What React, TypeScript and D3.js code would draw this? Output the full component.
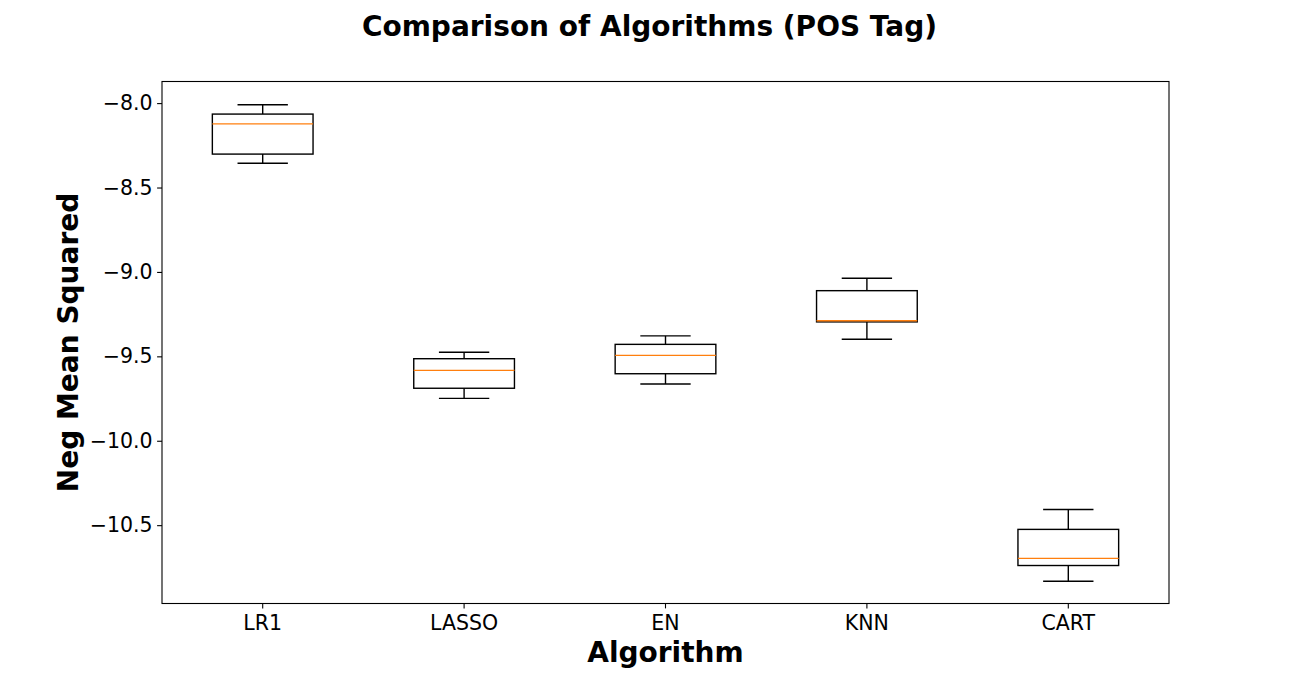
import React, { useEffect, useRef } from "react";
import * as d3 from "d3";

const categories = ["LR1", "LASSO", "EN", "KNN", "CART"];
const whiskerHigh = [-8.01, -9.476, -9.379, -9.037, -10.407];
const q3Values = [-8.065, -9.514, -9.429, -9.111, -10.525];
const medians = [-8.123, -9.583, -9.494, -9.289, -10.697];
const q1Values = [-8.302, -9.689, -9.603, -9.296, -10.739];
const whiskerLow = [-8.356, -9.749, -9.664, -9.399, -10.832];
const yTicks = [-8.0, -8.5, -9.0, -9.5, -10.0, -10.5];

const W = 1299;
const H = 679;
const M = { left: 162, right: 1169, top: 81.5, bottom: 603.5 };

export default function App() {
  const ref = useRef<SVGSVGElement | null>(null);
  useEffect(() => {
    const svg = d3.select(ref.current);
    svg.selectAll("*").remove();
    const font = "DejaVu Sans, sans-serif";
    const x = d3.scaleBand<string>().domain(categories).range([M.left, M.right]).padding(0);
    const y = d3.scaleLinear().domain([-10.964, -7.872]).range([M.bottom, M.top]);
    const bw = x.bandwidth();
    const boxW = bw * 0.5;
    const capW = bw * 0.25;
    const lw = 1.4;

    const g = svg.append("g");
    categories.forEach((c, i) => {
      const cx = x(c)! + bw / 2;
      g.append("line").attr("x1", cx).attr("x2", cx).attr("y1", y(q3Values[i])).attr("y2", y(whiskerHigh[i]))
        .attr("stroke", "#000").attr("stroke-width", lw);
      g.append("line").attr("x1", cx).attr("x2", cx).attr("y1", y(q1Values[i])).attr("y2", y(whiskerLow[i]))
        .attr("stroke", "#000").attr("stroke-width", lw);
      g.append("line").attr("x1", cx - capW / 2).attr("x2", cx + capW / 2).attr("y1", y(whiskerHigh[i])).attr("y2", y(whiskerHigh[i]))
        .attr("stroke", "#000").attr("stroke-width", lw);
      g.append("line").attr("x1", cx - capW / 2).attr("x2", cx + capW / 2).attr("y1", y(whiskerLow[i])).attr("y2", y(whiskerLow[i]))
        .attr("stroke", "#000").attr("stroke-width", lw);
      g.append("rect").attr("x", cx - boxW / 2).attr("width", boxW)
        .attr("y", y(q3Values[i])).attr("height", y(q1Values[i]) - y(q3Values[i]))
        .attr("fill", "none").attr("stroke", "#000").attr("stroke-width", lw);
      g.append("line").attr("x1", cx - boxW / 2).attr("x2", cx + boxW / 2).attr("y1", y(medians[i])).attr("y2", y(medians[i]))
        .attr("stroke", "#ff7f0e").attr("stroke-width", lw);
    });

    svg.append("rect").attr("x", M.left).attr("y", M.top).attr("width", M.right - M.left).attr("height", M.bottom - M.top)
      .attr("fill", "none").attr("stroke", "#000").attr("stroke-width", 1.1);

    const fmt = (v: number) => d3.format(".1f")(v).replace("-", "\u2212");
    const yAxis = svg.append("g").attr("transform", `translate(${M.left},0)`)
      .call(d3.axisLeft(y).tickValues(yTicks).tickFormat((d) => fmt(d as number)).tickSize(4.9).tickPadding(4.5));
    yAxis.select(".domain").remove();
    yAxis.selectAll("line").attr("stroke", "#000").attr("stroke-width", 1.1);
    yAxis.selectAll("text").attr("font-family", font).attr("font-size", 20.5).attr("fill", "#000");

    const xAxis = svg.append("g").attr("transform", `translate(0,${M.bottom})`)
      .call(d3.axisBottom(x).tickSize(4.9).tickPadding(7));
    xAxis.select(".domain").remove();
    xAxis.selectAll("line").attr("stroke", "#000").attr("stroke-width", 1.1);
    xAxis.selectAll("text").attr("font-family", font).attr("font-size", 20.5).attr("fill", "#000");

    svg.append("text").attr("x", W / 2).attr("y", 36).attr("text-anchor", "middle")
      .attr("font-family", font).attr("font-weight", "bold").attr("font-size", 28).text("Comparison of Algorithms (POS Tag)");
    svg.append("text").attr("x", (M.left + M.right) / 2).attr("y", 662).attr("text-anchor", "middle")
      .attr("font-family", font).attr("font-weight", "bold").attr("font-size", 28).text("Algorithm");
    svg.append("text").attr("transform", `translate(78,${(M.top + M.bottom) / 2}) rotate(-90)`).attr("text-anchor", "middle")
      .attr("font-family", font).attr("font-weight", "bold").attr("font-size", 28).text("Neg Mean Squared");
  }, []);
  return (
    <svg ref={ref} width={W} height={H} style={{ position: "absolute", left: 0, top: 0, background: "#fff" }} />
  );
}
